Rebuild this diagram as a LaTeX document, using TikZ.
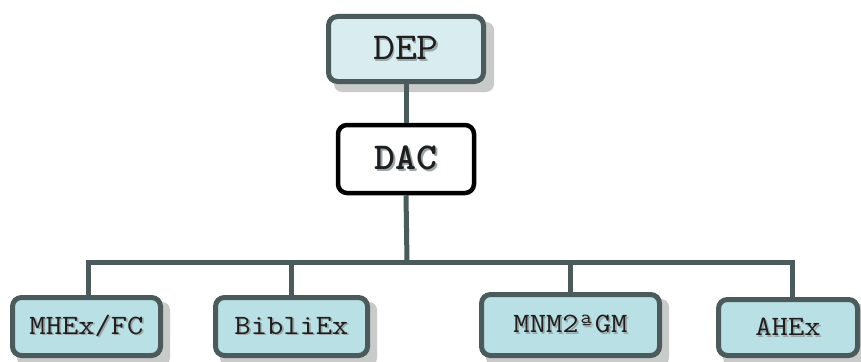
\documentclass[tikz,border=0pt]{standalone}
\usepackage{graphicx}
\newcommand{\shtx}[2][1.2]{\scalebox{#1}[1]{\rlap{\kern1.5pt\raisebox{-1.5pt}{\textcolor{halo}{#2}}}#2}}
\begin{document}
\begin{tikzpicture}[x=1pt,y=-1pt,
  conn/.style={draw=linegray,line width=5pt},
  bluebox/.style={draw=linegray,line width=5pt,fill=boxblue,rounded corners=9pt,inner sep=0pt,font=\ttfamily\fontsize{28}{28}\selectfont,text=textdark},
  topbox/.style={bluebox,fill=topblue,font=\ttfamily\fontsize{38}{38}\selectfont},
  dacbox/.style={draw=black,line width=4.5pt,fill=white,rounded corners=9pt,inner sep=0pt,font=\ttfamily\bfseries\fontsize{38}{38}\selectfont,text=textdark}
]
\definecolor{linegray}{HTML}{4B5A5A}
\definecolor{boxblue}{HTML}{B9E0E4}
\definecolor{topblue}{HTML}{D9EDF0}
\definecolor{shadowgray}{HTML}{C9CBCB}
\definecolor{textdark}{HTML}{1E1E1E}
\definecolor{halo}{HTML}{9AA6A8}
\useasboundingbox (0,0) rectangle (861,361);
\fill[white] (0,0) rectangle (861,361);
% shadows
\fill[shadowgray,rounded corners=8pt] (334,22) rectangle (494,92);
\fill[shadowgray,rounded corners=8pt] (17,302) rectangle (170,366);
\fill[shadowgray,rounded corners=8pt] (220,302) rectangle (377,366);
\fill[shadowgray,rounded corners=8pt] (486,299) rectangle (669,366);
\fill[shadowgray,rounded corners=8pt] (723,304) rectangle (867,366);
% nodes
\node[topbox,minimum width=155pt,minimum height=65pt] (dep) at (406,49) {\shtx[1.12]{DEP}};
\node[dacbox,minimum width=136pt,minimum height=68pt] (dac) at (406,159) {\shtx[1.05]{DAC}};
\node[bluebox,minimum width=148pt,minimum height=58pt] (mhex) at (86.5,326.5) {\shtx[1.13]{MHEx/FC}};
\node[bluebox,minimum width=152pt,minimum height=58pt] (bibl) at (291.5,326.5) {\shtx[1.13]{BibliEx}};
\node[bluebox,minimum width=178pt,minimum height=61pt] (mnm) at (570.5,325) {\shtx[1.13]{MNM2ªGM}};
\node[bluebox,minimum width=139pt,minimum height=56pt] (ahex) at (788,327.5) {\shtx[1.13]{AHEx}};
% connectors
\coordinate (bus) at (407,262);
\draw[conn] (dep.south) -- (dac.north);
\draw[conn] (dac.south) -- (bus);
\draw[conn] (mhex.north) ++(1.5,0) |- (bus) -| ([xshift=4pt]ahex.north);
\draw[conn] (bibl.north) -- (bibl.north |- bus);
\draw[conn] (mnm.north) -- (mnm.north |- bus);
\end{tikzpicture}
\end{document}
